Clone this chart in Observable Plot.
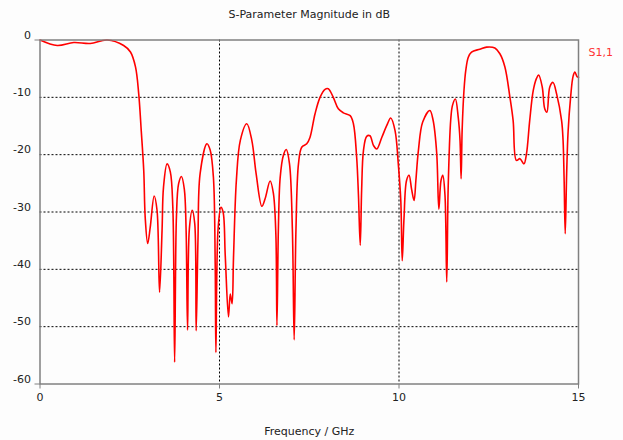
<!DOCTYPE html>
<html>
<head>
<meta charset="utf-8">
<script src="https://cdn.jsdelivr.net/npm/d3@7"></script>
<script src="https://cdn.jsdelivr.net/npm/@observablehq/plot@0.6"></script>
<style>
  html, body { margin: 0; padding: 0; background: #fdfdfd; }
  #chart svg { display: block; background: #fdfdfd; }
</style>
</head>
<body>
<div id="chart"></div>
<script>
const title = "S-Parameter Magnitude in dB";
const xLabel = "Frequency / GHz";
const seriesName = "S1,1";
const xTicks = [0, 5, 10, 15];
const yTicks = [0, -10, -20, -30, -40, -50, -60];

const freq = [
  0, 0.48, 0.94, 1.4, 1.87, 2.33, 2.52, 2.66, 2.75, 2.82, 2.89, 2.93, 3.0, 3.07, 3.18, 3.26, 3.33, 3.4, 3.44, 3.54,
  3.63, 3.7, 3.75, 3.8, 3.86, 3.94, 4.02, 4.07, 4.11, 4.16, 4.24, 4.31, 4.35, 4.4, 4.46, 4.65, 4.74, 4.83, 4.88, 4.9,
  4.96, 5.04, 5.1, 5.16, 5.25, 5.3, 5.35, 5.39, 5.47, 5.58, 5.76, 5.9, 6.02, 6.18, 6.27, 6.41, 6.5, 6.57, 6.6, 6.64,
  6.69, 6.78, 6.86, 6.95, 7.03, 7.08, 7.13, 7.2, 7.29, 7.43, 7.52, 7.66, 7.8, 7.94, 8.03, 8.17, 8.31, 8.45, 8.64, 8.73,
  8.82, 8.87, 8.92, 8.96, 9.01, 9.1, 9.19, 9.29, 9.38, 9.52, 9.66, 9.77, 9.89, 9.98, 10.05, 10.09, 10.14, 10.21, 10.28, 10.35,
  10.42, 10.47, 10.54, 10.66, 10.86, 10.95, 11.05, 11.11, 11.17, 11.22, 11.28, 11.33, 11.37, 11.44, 11.49, 11.57, 11.65, 11.7, 11.73, 11.76,
  11.81, 11.86, 11.93, 12.02, 12.25, 12.44, 12.67, 12.81, 12.95, 13.09, 13.18, 13.27, 13.37, 13.48, 13.55, 13.64, 13.74, 13.83, 13.89, 13.99,
  14.06, 14.12, 14.2, 14.29, 14.39, 14.53, 14.57, 14.6, 14.63, 14.67, 14.71, 14.78, 14.85, 14.9, 14.96, 15.0
];
const s11 = [
  0, -0.96, -0.44, -0.6, 0, -0.96, -2.1, -4.7, -9.4, -15.8, -22.8, -30.9, -35.5, -32.7, -27.2, -29.7, -44, -33.2, -25.7, -21.6,
  -23, -29.2, -56.2, -30.9, -25.1, -23.8, -26, -33.2, -50.6, -33, -29.7, -32, -50.7, -35, -23.3, -18.1, -19.2, -23.9, -39, -54.5,
  -33, -29.2, -30, -37.6, -48.3, -44.3, -46, -38, -24.5, -17.5, -14.6, -17.5, -23.3, -29, -27.7, -24.6, -26.7, -33.9, -49.8, -33,
  -24, -20.1, -19.1, -21.6, -33, -52.3, -33, -21.6, -18.7, -18.1, -17, -12.9, -10, -8.6, -8.5, -10, -12, -12.7, -13.2, -14.6,
  -20.4, -27, -35.8, -26, -19.3, -16.8, -16.7, -18.4, -19, -17, -14.9, -13.6, -15.8, -21.6, -28, -38.5, -31, -24.5, -23.6, -26,
  -28, -24.5, -19.3, -14.3, -12.3, -14, -19.7, -29.5, -24.5, -23.6, -27, -42.2, -25.7, -14, -11.4, -10.3, -13.5, -17.5, -24.2, -15.5,
  -8.8, -5.3, -3, -2.1, -1.6, -1.25, -1.4, -2.4, -4.7, -10, -14.1, -21, -20.7, -21.6, -19.9, -14.1, -8.8, -6.7, -6.1, -8.2,
  -12, -12.6, -8.2, -7.4, -9.4, -14.1, -17.5, -24.5, -33.8, -23.3, -16, -10, -6.3, -5.6, -6.4, -6.5
];

const data = freq.map((f, i) => ({f, db: s11[i]}));
const font = "DejaVu Sans, Verdana, sans-serif";
const gray = "#808080";

const chart = Plot.plot({
  width: 623,
  height: 440,
  marginLeft: 39.5,
  marginRight: 45,
  marginTop: 39.5,
  marginBottom: 56.5,
  style: {fontFamily: font, fontSize: "10.5px", color: "#000", background: "#fdfdfd", overflow: "visible"},
  x: {domain: [0, 15]},
  y: {domain: [-60, 0]},
  marks: [
    Plot.gridX([5, 10], {stroke: "#000", strokeOpacity: 1, strokeDasharray: "2,2", strokeWidth: 1}),
    Plot.gridY([-10, -20, -30, -40, -50], {stroke: "#000", strokeOpacity: 1, strokeDasharray: "2,2", strokeWidth: 1}),
    Plot.line(data, {x: "f", y: "db", stroke: "#ff0000", strokeWidth: 1.6, curve: "catmull-rom"}),
    Plot.frame({stroke: gray, strokeWidth: 1.5}),
    Plot.axisX({ticks: xTicks, tickSize: 5, tickPadding: 4, stroke: gray, label: null, fontSize: "11px", fill: "#222"}),
    Plot.axisY({ticks: [0, -60], tickSize: 5, tickFormat: () => "", stroke: gray, label: null}),
    Plot.axisY({ticks: yTicks, tickSize: 0, tickPadding: 9, dy: -5, tickFormat: d => String(d), label: null, fontSize: "11px", fill: "#222"}),
    Plot.text([title], {frameAnchor: "top", dy: -30, fontSize: 11, fill: "#222"}),
    Plot.text([xLabel], {frameAnchor: "bottom", dy: 51, fontSize: 11, fill: "#222"}),
    Plot.text([seriesName], {frameAnchor: "top-right", dx: 10, dy: 8, textAnchor: "start", fontSize: 11, fill: "#ff3333"})
  ]
});
document.getElementById("chart").appendChild(chart);
</script>
</body>
</html>
